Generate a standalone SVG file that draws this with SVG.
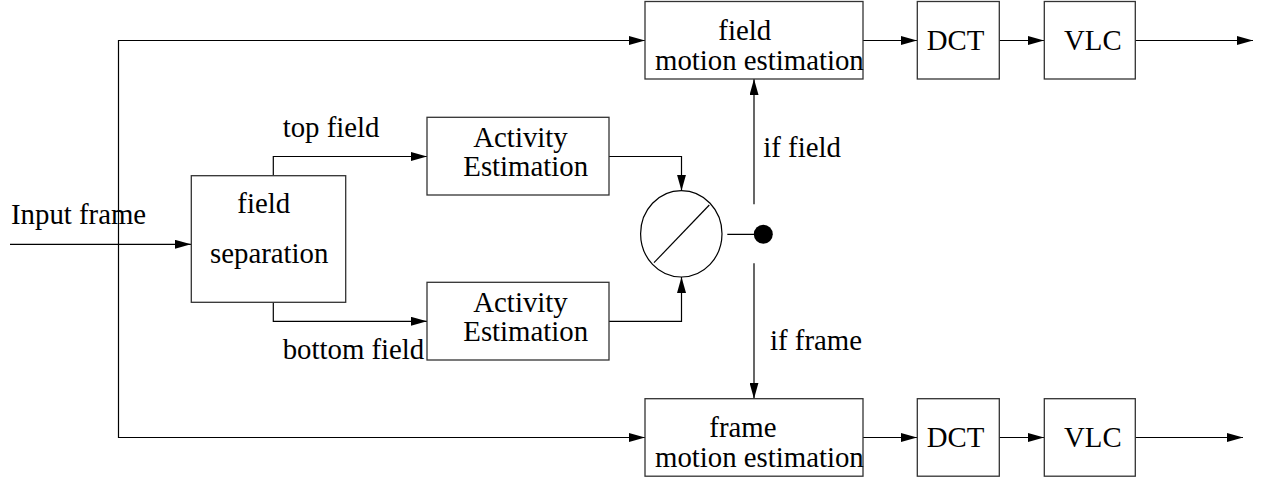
<svg xmlns="http://www.w3.org/2000/svg" width="1263" height="483" viewBox="0 0 1263 483">
<style>
.box{fill:#fff;stroke:#333;stroke-width:1.3}
.ln{fill:none;stroke:#000;stroke-width:1.2}
.t{font-family:'Liberation Serif','Times New Roman','DejaVu Serif',serif;font-size:28.8px;fill:#000}
</style>
<defs>
<marker id="ah" markerUnits="userSpaceOnUse" markerWidth="16" markerHeight="9" refX="16" refY="4.5" orient="auto">
<path d="M0,0 L16,4.5 L0,9 Z" fill="#000"/>
</marker>
</defs>
<rect width="1263" height="483" fill="#fff"/>
<g id="connectors">
<path class="ln" d="M10,244.3 H191" marker-end="url(#ah)"/>
<path class="ln" d="M118.5,244.3 V40.5 H645" marker-end="url(#ah)"/>
<path class="ln" d="M118.5,244.3 V437.5 H645" marker-end="url(#ah)"/>
<path class="ln" d="M273.3,175.7 V156.5 H427" marker-end="url(#ah)"/>
<path class="ln" d="M273.3,302.3 V321.3 H427" marker-end="url(#ah)"/>
<path class="ln" d="M609,156.5 H681.5 V190.7" marker-end="url(#ah)"/>
<path class="ln" d="M609,321.3 H681.5 V277" marker-end="url(#ah)"/>
<path class="ln" d="M727.3,234.3 H763"/>
<path class="ln" d="M754,204.3 V79" marker-end="url(#ah)"/>
<path class="ln" d="M754,263.3 V398.7" marker-end="url(#ah)"/>
<path class="ln" d="M863,40.5 H917" marker-end="url(#ah)"/>
<path class="ln" d="M999,40.5 H1044" marker-end="url(#ah)"/>
<path class="ln" d="M1135,40.5 H1253" marker-end="url(#ah)"/>
<path class="ln" d="M863,437.5 H917" marker-end="url(#ah)"/>
<path class="ln" d="M999,437.5 H1044" marker-end="url(#ah)"/>
<path class="ln" d="M1135,437.5 H1243" marker-end="url(#ah)"/>
</g>
<g font-family="Liberation Serif, Times New Roman, serif" font-size="28.8" fill="#000">
<g id="input-label"><text class="t" x="11" y="224">Input frame</text></g>
<g id="top-label"><text class="t" x="282.7" y="136.7">top field</text></g>
<g id="bottom-label"><text class="t" x="282.7" y="359.3">bottom field</text></g>
<g id="if-field-label"><text class="t" x="763.3" y="156.7">if field</text></g>
<g id="if-frame-label"><text class="t" x="770" y="350">if frame</text></g>
<g id="field-separation">
<rect class="box" x="191.3" y="175.7" width="154.4" height="126.6"/>
<text class="t" x="237.3" y="213">field</text>
<text class="t" x="210" y="262.7">separation</text>
</g>
<g id="activity-top">
<rect class="box" x="427" y="117.3" width="182" height="77.7"/>
<text class="t" x="473.3" y="146.7">Activity</text>
<text class="t" x="463.3" y="175.7">Estimation</text>
</g>
<g id="activity-bottom">
<rect class="box" x="427" y="282.3" width="182" height="77.7"/>
<text class="t" x="473.3" y="311.7">Activity</text>
<text class="t" x="463.3" y="340.7">Estimation</text>
</g>
<g id="comparator">
<ellipse cx="681.3" cy="233.8" rx="40.7" ry="43.2" fill="#fff" stroke="#000" stroke-width="1.2"/>
<line x1="654" y1="262.7" x2="709.3" y2="205" stroke="#000" stroke-width="1.2"/>
</g>
<g id="switch-dot"><circle cx="763.3" cy="234.3" r="9.5" fill="#000"/></g>
<g id="field-me">
<rect class="box" x="645" y="1.5" width="218" height="77.5"/>
<text class="t" x="718.3" y="40">field</text>
<text class="t" x="655" y="70">motion estimation</text>
</g>
<g id="dct-top">
<rect class="box" x="917.3" y="1.5" width="82" height="77.5"/>
<text class="t" x="926.7" y="50">DCT</text>
</g>
<g id="vlc-top">
<rect class="box" x="1044.3" y="1.5" width="91" height="77.5"/>
<text class="t" x="1064" y="50">VLC</text>
</g>
<g id="frame-me">
<rect class="box" x="645" y="398.7" width="218" height="77.5"/>
<text class="t" x="709.3" y="436.7">frame</text>
<text class="t" x="655" y="466.7">motion estimation</text>
</g>
<g id="dct-bottom">
<rect class="box" x="917.3" y="398.7" width="82" height="77.5"/>
<text class="t" x="926.7" y="446.7">DCT</text>
</g>
<g id="vlc-bottom">
<rect class="box" x="1044.3" y="398.7" width="91" height="77.5"/>
<text class="t" x="1064" y="446.7">VLC</text>
</g>
</g>
</svg>
